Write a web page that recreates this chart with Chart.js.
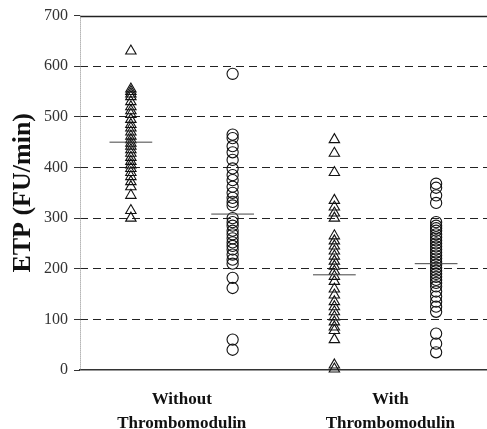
<!DOCTYPE html>
<html>
<head>
<meta charset="utf-8">
<script src="https://cdn.jsdelivr.net/npm/chart.js@4"></script>
<style>
html,body{margin:0;padding:0;background:#fff;overflow:hidden;}
#wrap{width:487px;height:429px;}
canvas{display:block;}
</style>
</head>
<body>
<div id="wrap"><canvas id="c" width="487" height="429"></canvas></div>
<script>
// ---- data ----
const groupLabels = [["Without", "Thrombomodulin"], ["With", "Thrombomodulin"]];
const groupLabelPos = [1.5, 3.55];
const yTicks = [0, 100, 200, 300, 400, 500, 600, 700];

const withoutTM_triangles = [630, 555, 550, 545, 540, 530, 520, 512, 505, 495, 485, 478, 470, 462, 455, 448, 442, 435, 428, 420, 412, 405, 398, 390, 382, 372, 362, 345, 315, 300];
const withoutTM_circles = [585, 465, 458, 442, 430, 415, 398, 385, 375, 362, 350, 340, 332, 325, 300, 292, 285, 275, 268, 260, 252, 245, 238, 228, 218, 210, 182, 162, 60, 40];
const withTM_triangles = [455, 428, 390, 335, 322, 310, 300, 265, 255, 245, 235, 225, 215, 205, 195, 185, 175, 160, 148, 135, 125, 115, 105, 95, 85, 78, 60, 10, 2];
const withTM_circles = [368, 360, 345, 330, 292, 285, 280, 275, 268, 262, 256, 250, 244, 238, 232, 226, 220, 214, 208, 202, 196, 190, 184, 178, 172, 165, 155, 145, 135, 125, 115, 72, 52, 35];
const groupMeans = [450, 308, 188, 210];

// ---- build datasets ----
const columns = [withoutTM_triangles, withoutTM_circles, withTM_triangles, withTM_circles];
const styles = ['triangle', 'circle', 'triangle', 'circle'];
const datasets = columns.map((vals, i) => ({
  type: 'scatter',
  data: vals.map(v => ({x: i + 1, y: v})),
  pointStyle: styles[i],
  pointRadius: styles[i] === 'triangle' ? 6 : 5.6,
  pointBackgroundColor: 'rgba(0,0,0,0)',
  pointBorderColor: '#111',
  pointBorderWidth: 1.1,
  clip: false,
  order: 1
}));
groupMeans.forEach((m, i) => {
  datasets.push({
    type: 'line',
    data: [{x: i + 1 - 0.21, y: m}, {x: i + 1 + 0.21, y: m}],
    borderColor: '#444',
    borderWidth: 1,
    pointRadius: 0,
    fill: false,
    order: 0
  });
});

const axisPlugin = {
  id: 'axisDecor',
  beforeDatasetsDraw(chart) {
    const {ctx, chartArea} = chart;
    const y = chart.scales.y;
    ctx.save();
    // solid top line at 700
    ctx.strokeStyle = '#222';
    ctx.lineWidth = 1.5;
    ctx.beginPath();
    const yt = Math.round(y.getPixelForValue(700)) + 0.5;
    ctx.moveTo(chartArea.left, yt);
    ctx.lineTo(chartArea.right, yt);
    ctx.stroke();
    // dotted y axis line
    ctx.strokeStyle = '#888';
    ctx.lineWidth = 1;
    ctx.setLineDash([1, 1]);
    ctx.beginPath();
    ctx.moveTo(chartArea.left + 0.5, chartArea.top);
    ctx.lineTo(chartArea.left + 0.5, chartArea.bottom);
    ctx.stroke();
    ctx.restore();
  }
};

new Chart(document.getElementById('c'), {
  type: 'scatter',
  data: {datasets},
  options: {
    responsive: false,
    animation: false,
    events: [],
    layout: {autoPadding: false, padding: {top: 15, right: 0, left: 0, bottom: 0}},
    plugins: {legend: {display: false}, tooltip: {enabled: false}},
    scales: {
      x: {
        type: 'linear',
        min: 0.5,
        max: 4.5,
        afterBuildTicks(scale) { scale.ticks = groupLabelPos.map(v => ({value: v})); },
        afterFit(scale) { scale.height = 59; scale.paddingLeft = 0; scale.paddingRight = 0; },
        grid: {display: false, drawTicks: false},
        border: {display: true, color: '#333', width: 1.5},
        ticks: {
          autoSkip: false,
          maxRotation: 0,
          padding: 18,
          color: '#111',
          font: {family: 'Liberation Serif', size: 17, weight: 'bold', lineHeight: 1.38},
          callback(value) {
            const i = groupLabelPos.indexOf(value);
            return i >= 0 ? groupLabels[i] : '';
          }
        }
      },
      y: {
        min: 0,
        max: 700,
        afterBuildTicks(scale) { scale.ticks = yTicks.map(v => ({value: v})); },
        afterFit(scale) { scale.width = 80; },
        border: {display: false, dash: [8, 5]},
        grid: {
          color: ctx => (ctx.tick && (ctx.tick.value === 0 || ctx.tick.value === 700)) ? 'rgba(0,0,0,0)' : '#222',
          lineWidth: 1,
          tickColor: '#333',
          tickLength: 6,
          tickBorderDash: [],
          drawTicks: true
        },
        ticks: {
          padding: 6,
          color: '#333',
          font: {family: 'Liberation Serif', size: 16}
        },
        title: {
          display: true,
          text: 'ETP (FU/min)',
          color: '#111',
          padding: {top: 8, bottom: 0},
          font: {family: 'Liberation Serif', size: 26, weight: 'bold'}
        }
      }
    }
  },
  plugins: [axisPlugin]
});
</script>
</body>
</html>
